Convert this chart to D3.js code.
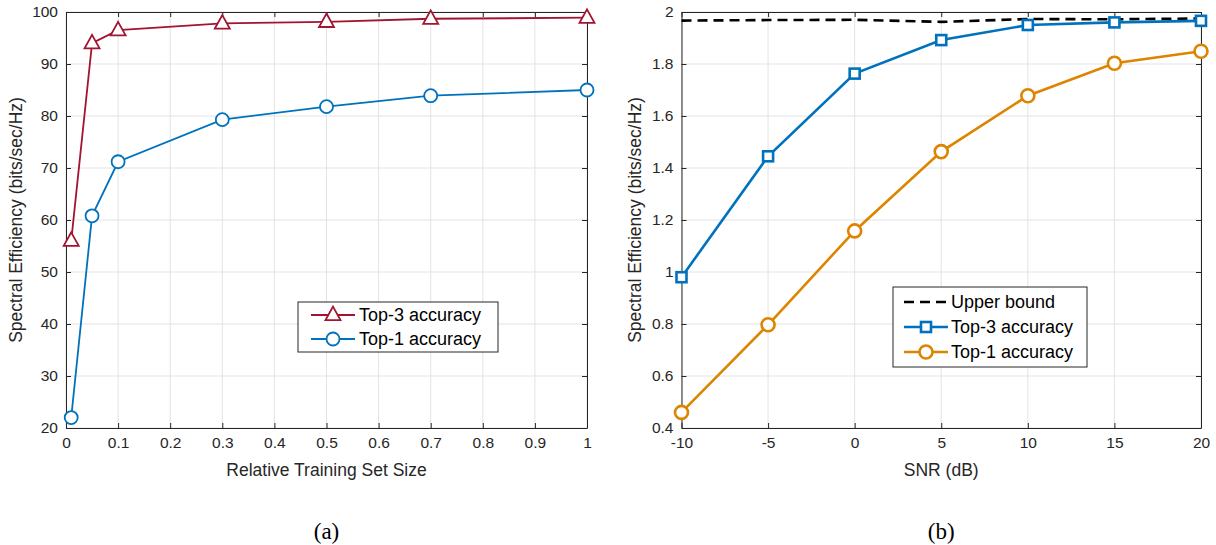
<!DOCTYPE html>
<html><head><meta charset="utf-8">
<script src="https://cdn.jsdelivr.net/npm/d3@7"></script>
<style>
body{margin:0;background:#fff;}
svg{display:block;font-family:"Liberation Sans",Arial,sans-serif;}
</style></head>
<body>
<svg id="c" width="1216" height="545"></svg>
<script>
// Panel (a)
const sizeX = [0.01, 0.05, 0.1, 0.3, 0.5, 0.7, 1];
const top3A = [56, 94, 96.5, 97.8, 98.1, 98.7, 98.9];
const top1A = [22, 60.8, 71.2, 79.3, 81.8, 83.9, 85.0];
const ticksXA = [0,0.1,0.2,0.3,0.4,0.5,0.6,0.7,0.8,0.9,1];
const ticksYA = [20,30,40,50,60,70,80,90,100];
// Panel (b)
const snrX = [-10, -5, 0, 5, 10, 15, 20];
const upperB = [1.967, 1.969, 1.970, 1.962, 1.973, 1.972, 1.975];
const top3B = [0.98, 1.445, 1.763, 1.892, 1.950, 1.960, 1.966];
const top1B = [0.46, 0.797, 1.158, 1.463, 1.678, 1.803, 1.849];
const ticksXB = [-10,-5,0,5,10,15,20];
const ticksYB = [0.4,0.6,0.8,1,1.2,1.4,1.6,1.8,2];

const svg = d3.select("#c");
const axisCol = "#262626", gridCol = "#e3e3e3";
const RED = "#a2142f", BLUE = "#0072bd", ORANGE = "#dd8400";
const hyph = f => d => f(d).replace("\u2212","-");

function panel(o){
  const g = svg.append("g");
  const x = d3.scaleLinear().domain(o.xd).range([o.x0, o.x1]);
  const y = d3.scaleLinear().domain(o.yd).range([o.y1, o.y0]);
  g.selectAll(".gx").data(o.tx).join("line").attr("x1",d=>x(d)).attr("x2",d=>x(d))
    .attr("y1",o.y0).attr("y2",o.y1).attr("stroke",gridCol).attr("stroke-width",1);
  g.selectAll(".gy").data(o.ty).join("line").attr("y1",d=>y(d)).attr("y2",d=>y(d))
    .attr("x1",o.x0).attr("x2",o.x1).attr("stroke",gridCol).attr("stroke-width",1);
  const tl = 5;
  const ax = g.append("g").attr("transform",`translate(0,${o.y1})`)
    .call(d3.axisBottom(x).tickValues(o.tx).tickSizeInner(-tl).tickSizeOuter(0).tickPadding(9).tickFormat(o.fx));
  const axT = g.append("g").attr("transform",`translate(0,${o.y0})`)
    .call(d3.axisTop(x).tickValues(o.tx).tickSizeInner(-tl).tickSizeOuter(0).tickFormat(""));
  const ay = g.append("g").attr("transform",`translate(${o.x0},0)`)
    .call(d3.axisLeft(y).tickValues(o.ty).tickSizeInner(-tl).tickSizeOuter(0).tickPadding(8).tickFormat(o.fy));
  const ayR = g.append("g").attr("transform",`translate(${o.x1},0)`)
    .call(d3.axisRight(y).tickValues(o.ty).tickSizeInner(-tl).tickSizeOuter(0).tickFormat(""));
  [ax,axT,ay,ayR].forEach(a=>{
    a.select(".domain").attr("stroke",axisCol).attr("stroke-width",1);
    a.selectAll(".tick line").attr("stroke",axisCol);
    a.selectAll("text").attr("fill",axisCol).style("font-size","15.5px").style("font-family","Liberation Sans, Arial, sans-serif");
  });
  ax.selectAll("text").attr("dy","0.71em");
  g.append("text").attr("x",(o.x0+o.x1)/2).attr("y",o.y1+48).attr("text-anchor","middle")
    .attr("fill",axisCol).style("font-size","17.5px").text(o.xl);
  g.append("text").attr("transform",`translate(${o.ylx},${(o.y0+o.y1)/2}) rotate(-90)`)
    .attr("text-anchor","middle").attr("fill",axisCol).style("font-size","17.5px").text(o.yl);
  g.append("text").attr("x",(o.x0+o.x1)/2).attr("y",539).attr("text-anchor","middle")
    .attr("fill","#000").style("font-family","Liberation Serif, Times New Roman, serif").style("font-size","23px").text(o.cap);
  return {g,x,y};
}

function marker(sel, type, cx, cy, col, sw, s){
  if(type==="tri"){
    const h = s*0.9;
    sel.append("path").attr("d",`M${cx},${cy-h*0.62}L${cx+s/2},${cy+h*0.38}L${cx-s/2},${cy+h*0.38}Z`)
      .attr("fill","#fff").attr("stroke",col).attr("stroke-width",sw);
  } else if(type==="circ"){
    sel.append("circle").attr("cx",cx).attr("cy",cy).attr("r",s/2).attr("fill","#fff").attr("stroke",col).attr("stroke-width",sw);
  } else if(type==="sq"){
    sel.append("rect").attr("x",cx-s/2).attr("y",cy-s/2).attr("width",s).attr("height",s)
      .attr("fill","#fff").attr("stroke",col).attr("stroke-width",sw);
  }
}

function series(p, xs, ys, col, sw, type, ms, dash){
  const line = d3.line().x((d,i)=>p.x(xs[i])).y(d=>p.y(d));
  p.g.append("path").datum(ys).attr("d",line).attr("fill","none").attr("stroke",col)
    .attr("stroke-width",sw).attr("stroke-dasharray",dash||null);
  if(type){
    const mg = p.g.append("g");
    ys.forEach((v,i)=>marker(mg,type,p.x(xs[i]),p.y(v),col,sw,ms));
  }
}

function legend(x0,y0,w,h,items,rowH,sw,lx1,lx2,tx){
  const g = svg.append("g");
  g.append("rect").attr("x",x0).attr("y",y0).attr("width",w).attr("height",h)
    .attr("fill","#fff").attr("stroke",axisCol).attr("stroke-width",1);
  items.forEach((it,i)=>{
    const cy = y0 + rowH*(i+0.5) + (h-rowH*items.length)/2;
    g.append("line").attr("x1",x0+lx1).attr("x2",x0+lx2).attr("y1",cy).attr("y2",cy)
      .attr("stroke",it.col).attr("stroke-width",sw).attr("stroke-dasharray",it.dash||null);
    if(it.type) marker(g,it.type,x0+(lx1+lx2)/2,cy,it.col,sw,it.ms);
    g.append("text").attr("x",x0+tx).attr("y",cy).attr("dy","0.35em").attr("fill","#000")
      .style("font-size","18px").text(it.label);
  });
}

const pa = panel({xd:[0,1],yd:[20,100],x0:66,x1:587,y0:12,y1:428,tx:ticksXA,ty:ticksYA,
  fx:d3.format("~g"),fy:d3.format("d"),xl:"Relative Training Set Size",
  yl:"Spectral Efficiency (bits/sec/Hz)",ylx:22,cap:"(a)"});
series(pa,sizeX,top3A,RED,1.8,"tri",15);
series(pa,sizeX,top1A,BLUE,1.8,"circ",13);
legend(298,302,200,50,[
  {label:"Top-3 accuracy",col:RED,type:"tri",ms:15},
  {label:"Top-1 accuracy",col:BLUE,type:"circ",ms:13}],24,1.8,13,57,61);

const pb = panel({xd:[-10,20],yd:[0.4,2],x0:681.5,x1:1201,y0:12,y1:428,tx:ticksXB,ty:ticksYB,
  fx:hyph(d3.format("d")),fy:d3.format("~g"),xl:"SNR (dB)",
  yl:"Spectral Efficiency (bits/sec/Hz)",ylx:641,cap:"(b)"});
series(pb,snrX,upperB,"#000",2.6,null,0,"10,6");
series(pb,snrX,top3B,BLUE,2.6,"sq",10);
series(pb,snrX,top1B,ORANGE,2.6,"circ",13);
legend(893,287,194,80,[
  {label:"Upper bound",col:"#000",dash:"10,6"},
  {label:"Top-3 accuracy",col:BLUE,type:"sq",ms:10},
  {label:"Top-1 accuracy",col:ORANGE,type:"circ",ms:13}],25,2.6,11,55,58);
</script>
</body></html>
